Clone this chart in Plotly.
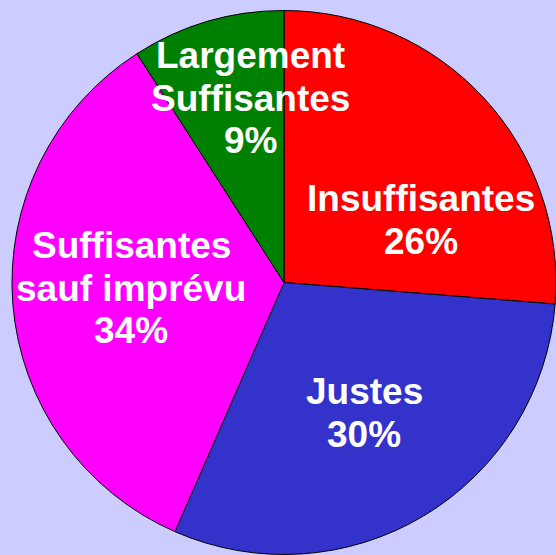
import plotly.graph_objects as go

categories = ["Insuffisantes", "Justes", "Suffisantes sauf imprévu", "Largement Suffisantes"]
label_lines = [["Insuffisantes"], ["Justes"], ["Suffisantes", "sauf imprévu"], ["Largement", "Suffisantes"]]
values = [26, 30, 34, 9]
colors = ["#ff0000", "#3333cc", "#ff00ff", "#008000"]

W, H = 556, 555
# label block placement (pixel centre x, first baseline y)
label_pos = [(421, 210), (364, 403), (131, 257), (250, 67)]
LINE = 42.5
FS = 37

fig = go.Figure(go.Pie(
    labels=categories,
    values=values,
    marker=dict(colors=colors, line=dict(color="black", width=1)),
    sort=False,
    direction="clockwise",
    rotation=0,
    textinfo="none",
    hoverinfo="skip",
    showlegend=False,
    domain=dict(x=[12 / W, 1], y=[0, 1 - 10 / H]),
))

total = sum(values)
annotations = []
for lines, v, (cx, by) in zip(label_lines, values, label_pos):
    all_lines = lines + [f"{round(v / total * 100)}%"]
    for i, t in enumerate(all_lines):
        base = by + i * LINE
        cy = base - 0.30 * FS
        annotations.append(dict(
            x=cx / W, y=1 - cy / H, xref="paper", yref="paper",
            text=t, showarrow=False, xanchor="center", yanchor="middle",
            font=dict(family="Arial, Liberation Sans, sans-serif", size=FS, color="white", weight="bold"),
        ))

fig.update_layout(
    width=W, height=H,
    margin=dict(l=0, r=0, t=0, b=0),
    paper_bgcolor="#ccccff",
    plot_bgcolor="#ccccff",
    annotations=annotations,
)

fig.write_html(
    "out.html",
    config={"displayModeBar": False, "staticPlot": True},
    post_script="document.body.style.margin='0';document.body.style.background='#ccccff';",
)
